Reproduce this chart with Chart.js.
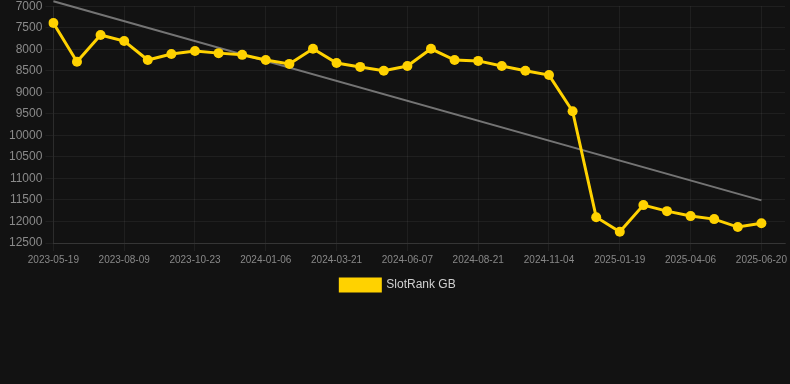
<!DOCTYPE html>
<html>
<head>
<meta charset="utf-8">
<script src="https://cdn.jsdelivr.net/npm/chart.js@4/dist/chart.umd.min.js"></script>
<style>
  html, body { margin: 0; padding: 0; background: #121212; overflow: hidden; }
  #wrap { width: 790px; height: 305px; position: relative; top: -4px; }
</style>
</head>
<body>
<div id="wrap"><canvas id="c"></canvas></div>
<script>
const categories = [
  "2023-05-19","2023-06-15","2023-07-12","2023-08-09","2023-09-03","2023-09-28",
  "2023-10-23","2023-11-17","2023-12-12","2024-01-06","2024-01-31","2024-02-25",
  "2024-03-21","2024-04-16","2024-05-12","2024-06-07","2024-07-01","2024-07-26",
  "2024-08-21","2024-09-14","2024-10-10","2024-11-04","2024-11-30","2024-12-25",
  "2025-01-19","2025-02-13","2025-03-11","2025-04-06","2025-04-30","2025-05-26",
  "2025-06-20","2025-07-15"
];
const slotRankGB = [
  7390, 8290, 7670, 7810, 8250, 8110, 8040, 8090, 8130, 8250, 8340, 7990,
  8320, 8410, 8500, 8390, 7990, 8250, 8270, 8390, 8500, 8600, 9440, 11900,
  12240, 11620, 11760, 11875, 11945, 12130, 12040, null
];
const trendStart = 6884;
const trendEnd = 11510;
const trendLine = categories.map((_, i) => i === 0 ? trendStart : (i === 30 ? trendEnd : null));
const yTicks = [7000, 7500, 8000, 8500, 9000, 9500, 10000, 10500, 11000, 11500, 12000, 12500];

const gridColor = 'rgba(255,255,255,0.055)';
new Chart(document.getElementById('c'), {
  type: 'line',
  data: {
    labels: categories,
    datasets: [
      {
        label: 'SlotRank GB',
        data: slotRankGB,
        borderColor: '#FFD200',
        backgroundColor: '#FFD200',
        borderWidth: 3,
        pointRadius: 5,
        pointBackgroundColor: '#FFD200',
        pointBorderWidth: 0,
        tension: 0,
        order: 1
      },
      {
        label: 'Trend',
        data: trendLine,
        borderColor: 'rgba(150,150,150,0.75)',
        borderWidth: 2,
        pointRadius: 0,
        spanGaps: true,
        clip: false,
        order: 2
      }
    ]
  },
  options: {
    responsive: true,
    maintainAspectRatio: false,
    animation: false,
    layout: { padding: { left: 6, right: 0, top: 0, bottom: 0 } },
    plugins: {
      legend: {
        position: 'bottom',
        labels: {
          color: '#d0d0d0',
          font: { family: 'Liberation Sans, Arial, sans-serif', size: 12 },
          boxWidth: 40,
          boxHeight: 12,
          filter: (item) => item.text === 'SlotRank GB'
        }
      },
      tooltip: { enabled: false }
    },
    scales: {
      x: {
        offset: false,
        grid: {
          color: (ctx) => (ctx.index % 3 === 0 && ctx.index <= 30) ? gridColor : 'transparent',
          tickColor: (ctx) => (ctx.index % 3 === 0 && ctx.index <= 30) ? gridColor : 'transparent'
        },
        border: { color: 'rgba(255,255,255,0.1)' },
        ticks: {
          autoSkip: false,
          maxRotation: 0,
          color: '#888888',
          font: { family: 'Liberation Sans, Arial, sans-serif', size: 10 },
          callback: function(v, i) { return (i % 3 === 0 && i <= 30) ? categories[i] : ''; }
        }
      },
      y: {
        reverse: true,
        min: 7000,
        max: 12500,
        afterBuildTicks: (axis) => { axis.ticks = yTicks.map(v => ({ value: v })); },
        grid: { color: gridColor, tickColor: gridColor },
        border: { color: 'rgba(255,255,255,0.06)' },
        ticks: {
          color: '#8a8a8a',
          font: { family: 'Liberation Sans, Arial, sans-serif', size: 12 },
          callback: (v) => String(v)
        }
      }
    }
  }
});
</script>
</body>
</html>
